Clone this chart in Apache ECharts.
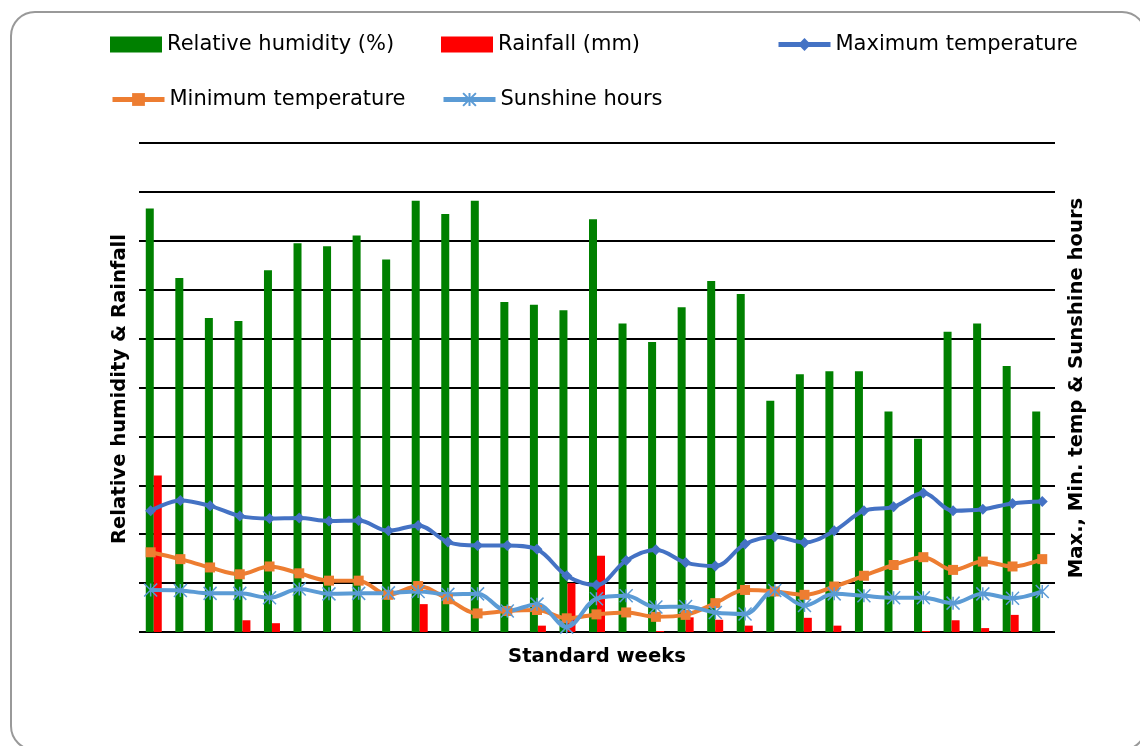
<!DOCTYPE html>
<html>
<head>
<meta charset="utf-8">
<script src="https://cdn.jsdelivr.net/npm/echarts@6/dist/echarts.min.js"></script>
<style>
html,body{margin:0;padding:0;background:#fff;}
#chart{width:1140px;height:746px;}
</style>
</head>
<body>
<div id="chart"></div>
<script>
const weeks = ['1','2','3','4','5','6','7','8','9','10','11','12','13','14','15','16','17','18','19','20','21','22','23','24','25','26','27','28','29','30','31'];
const humidity = [86.6, 72.4, 64.2, 63.6, 74.0, 79.5, 78.9, 81.1, 76.2, 88.2, 85.5, 88.2, 67.5, 66.9, 65.8, 84.4, 63.1, 59.3, 66.4, 71.8, 69.1, 47.3, 52.7, 53.3, 53.3, 45.1, 39.5, 61.4, 63.1, 54.4, 45.1];
const rainfall = [32.0, 0, 0, 2.4, 1.8, 0, 0, 0, 0, 5.7, 0, 0, 0, 1.3, 10.0, 15.6, 0, 0.2, 3.0, 2.5, 1.3, 0, 2.9, 1.3, 0, 0, 0.2, 2.4, 0.8, 3.5, 0];
const maxTemp = [24.8, 26.9, 25.8, 23.7, 23.2, 23.3, 22.7, 22.8, 20.7, 21.8, 18.4, 17.7, 17.7, 16.9, 11.5, 9.6, 14.6, 16.8, 14.2, 13.5, 18.0, 19.5, 18.3, 20.7, 24.8, 25.6, 28.4, 24.8, 25.1, 26.3, 26.7];
const minTemp = [16.3, 14.9, 13.2, 11.8, 13.4, 12.0, 10.5, 10.5, 7.6, 9.4, 6.7, 3.8, 4.3, 4.5, 2.8, 3.6, 4.0, 3.1, 3.5, 5.9, 8.6, 8.3, 7.6, 9.3, 11.5, 13.7, 15.3, 12.7, 14.4, 13.4, 14.9];
const sunshine = [8.6, 8.5, 7.9, 7.9, 7.0, 8.8, 7.8, 7.9, 8.0, 8.3, 7.7, 7.8, 4.3, 5.7, 1.0, 6.8, 7.4, 5.1, 5.2, 4.0, 3.7, 8.5, 5.4, 7.8, 7.4, 7.0, 7.0, 5.9, 7.8, 6.9, 8.3];

const chart = echarts.init(document.getElementById('chart'), null, {renderer:'canvas'});
const starPath = 'path://M5,0L5,10M0,0L10,10M10,0L0,10';
const legendText = {fontFamily:'DejaVu Sans', fontSize:21, color:'#000'};
function lg(name, left, top, icon){
  const l = {data:[icon ? {name:name, icon:icon} : name], left:left, top:top, itemWidth:52, itemHeight:16, padding:0, itemGap:0, textStyle:legendText, selectedMode:false, lineStyle:{width:5}};
  return l;
}
const option = {
  animation:false,
  backgroundColor:'#fff',
  legend:[
    lg('Relative humidity (%)',110,34,'rect'),
    lg('Rainfall (mm)',441,34,'rect'),
    lg('Maximum temperature',776,34),
    lg('Minimum temperature',110,89),
    lg('Sunshine hours',441,89)
  ],
  graphic:[
    {type:'rect', shape:{x:11,y:12,width:1135,height:738,r:24}, style:{fill:'none', stroke:'#999', lineWidth:2}, silent:true},
    {type:'text', x:120, y:389, rotation:Math.PI/2, style:{text:'Relative humidity & Rainfall', font:'bold 19.6px "DejaVu Sans"', fill:'#000', align:'center', verticalAlign:'middle'}},
    {type:'text', x:1077, y:388, rotation:Math.PI/2, style:{text:'Max., Min. temp & Sunshine hours', font:'bold 19.6px "DejaVu Sans"', fill:'#000', align:'center', verticalAlign:'middle'}},
    {type:'text', x:597, y:657, style:{text:'Standard weeks', font:'bold 19.6px "DejaVu Sans"', fill:'#000', align:'center', verticalAlign:'middle'}}
  ],
  grid:[
    {left:139, top:143, width:916, height:489},
    {left:135.8, top:143, width:921.3, height:489}
  ],
  xAxis:[
    {type:'category', gridIndex:0, data:weeks, axisLine:{show:false}, axisTick:{show:false}, axisLabel:{show:false}, splitLine:{show:false}},
    {type:'category', gridIndex:1, data:weeks, show:false}
  ],
  yAxis:[
    {type:'value', gridIndex:0, min:0, max:100, interval:10, axisLine:{show:false}, axisTick:{show:false}, axisLabel:{show:false}, splitLine:{show:true, lineStyle:{color:'#000', width:2}}},
    {type:'value', gridIndex:1, min:0, max:100, interval:10, show:false, splitLine:{show:false}}
  ],
  series:[
    {name:'Relative humidity (%)', type:'bar', xAxisIndex:0, yAxisIndex:0, data:humidity, barWidth:8, barGap:'0%', itemStyle:{color:'#008000'}},
    {name:'Rainfall (mm)', type:'bar', xAxisIndex:0, yAxisIndex:0, data:rainfall, barWidth:8, barGap:'0%', itemStyle:{color:'#FF0000'}},
    {name:'Maximum temperature', type:'line', xAxisIndex:1, yAxisIndex:1, data:maxTemp, smooth:0.35, symbol:'diamond', symbolSize:11, lineStyle:{color:'#4472C4', width:4}, itemStyle:{color:'#4472C4'}},
    {name:'Minimum temperature', type:'line', xAxisIndex:1, yAxisIndex:1, data:minTemp, smooth:0.35, symbol:'rect', symbolSize:10, lineStyle:{color:'#ED7D31', width:4}, itemStyle:{color:'#ED7D31'}},
    {name:'Sunshine hours', type:'line', xAxisIndex:1, yAxisIndex:1, data:sunshine, smooth:0.35, symbol:starPath, symbolSize:13, lineStyle:{color:'#5B9BD5', width:4}, itemStyle:{color:'#5B9BD5', borderColor:'#5B9BD5', borderWidth:1.5}}
  ]
};
chart.setOption(option);
</script>
</body>
</html>
